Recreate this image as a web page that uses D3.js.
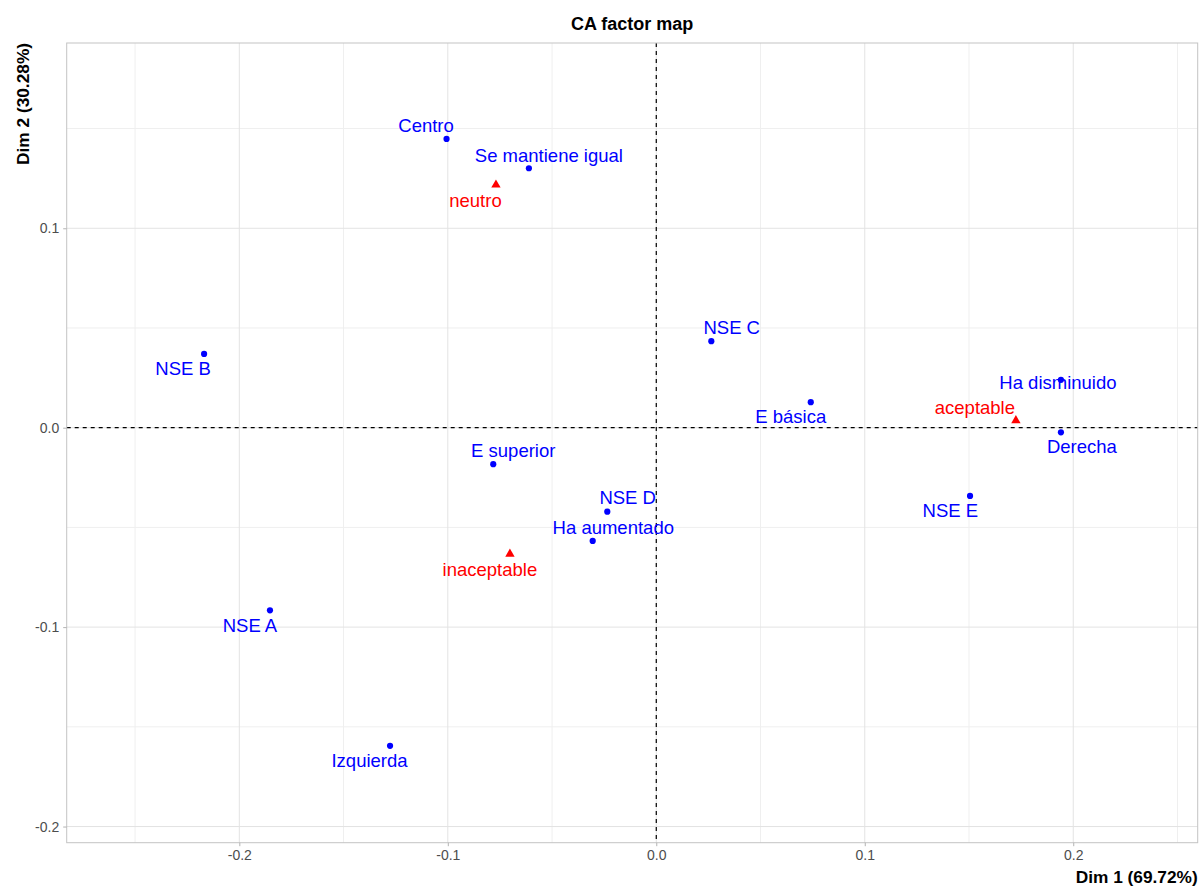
<!DOCTYPE html>
<html>
<head>
<meta charset="utf-8">
<script src="https://cdn.jsdelivr.net/npm/d3@7"></script>
<style>
  html, body { margin: 0; padding: 0; background: #ffffff; }
  svg { display: block; font-family: "Liberation Sans", Arial, sans-serif; }
</style>
</head>
<body>
<svg id="chart" width="1200" height="886"></svg>
<script>
// Row profiles (blue circles): category names and their coordinates
const rowNames = ["Centro", "Se mantiene igual", "NSE B", "NSE C", "E básica", "Ha disminuido",
                  "Derecha", "E superior", "NSE D", "Ha aumentado", "NSE E", "NSE A", "Izquierda"];
const rowDim1 = [-0.1006, -0.0611, -0.2169, 0.0264, 0.0741, 0.1941,
                 0.1941, -0.0782, -0.0235, -0.0305, 0.1505, -0.1853, -0.1277];
const rowDim2 = [0.1448, 0.1301, 0.0370, 0.0434, 0.0128, 0.0240,
                 -0.0023, -0.0183, -0.0421, -0.0568, -0.0342, -0.0916, -0.1595];

// Column profiles (red triangles)
const colNames = ["neutro", "aceptable", "inaceptable"];
const colDim1 = [-0.0769, 0.1725, -0.0702];
const colDim2 = [0.1218, 0.0036, -0.0633];

// Axis ticks
const xTicks = [-0.2, -0.1, 0.0, 0.1, 0.2];
const xTickLabels = ["-0.2", "-0.1", "0.0", "0.1", "0.2"];
const yTicks = [-0.2, -0.1, 0.0, 0.1];
const yTickLabels = ["-0.2", "-0.1", "0.0", "0.1"];
const xMinor = [-0.25, -0.15, -0.05, 0.05, 0.15, 0.25];
const yMinor = [-0.15, -0.05, 0.05, 0.15];

// Label placement (pixel offset of the label's centre/baseline from its point)
const labelOffsets = {
  "Centro": [-20.5, -6.7], "Se mantiene igual": [20, -6.6], "neutro": [-20.5, 22],
  "NSE B": [-21, 21], "NSE C": [20.4, -7], "E básica": [-20, 21],
  "Ha disminuido": [-3, 9.3], "aceptable": [-41, -6.5], "Derecha": [21, 21],
  "E superior": [20, -7.6], "NSE D": [20.4, -7.7], "Ha aumentado": [20.6, -7],
  "inaceptable": [-20, 22], "NSE E": [-19.7, 21.3], "NSE A": [-20, 22], "Izquierda": [-20.5, 21]
};

const rows = rowNames.map((n, i) => ({ name: n, x: rowDim1[i], y: rowDim2[i] }));
const cols = colNames.map((n, i) => ({ name: n, x: colDim1[i], y: colDim2[i] }));

const panel = { left: 66.7, right: 1197.7, top: 43, bottom: 842.7 };

const x = d3.scaleLinear().domain([-0.2828, 0.2597]).range([panel.left, panel.right]);
const y = d3.scaleLinear().domain([-0.2081, 0.1929]).range([panel.bottom, panel.top]);

const svg = d3.select("#chart");

// Grid
const grid = svg.append("g");
grid.selectAll(".xminor").data(xMinor).join("line")
  .attr("x1", d => x(d)).attr("x2", d => x(d))
  .attr("y1", panel.top).attr("y2", panel.bottom)
  .attr("stroke", "#efefef").attr("stroke-width", 1);
grid.selectAll(".yminor").data(yMinor).join("line")
  .attr("y1", d => y(d)).attr("y2", d => y(d))
  .attr("x1", panel.left).attr("x2", panel.right)
  .attr("stroke", "#efefef").attr("stroke-width", 1);
grid.selectAll(".xmajor").data(xTicks).join("line")
  .attr("x1", d => x(d)).attr("x2", d => x(d))
  .attr("y1", panel.top).attr("y2", panel.bottom)
  .attr("stroke", "#e3e3e3").attr("stroke-width", 1);
grid.selectAll(".ymajor").data(yTicks).join("line")
  .attr("y1", d => y(d)).attr("y2", d => y(d))
  .attr("x1", panel.left).attr("x2", panel.right)
  .attr("stroke", "#e3e3e3").attr("stroke-width", 1);

// Reference lines through the origin
svg.append("line")
  .attr("x1", x(0)).attr("x2", x(0)).attr("y1", panel.top).attr("y2", panel.bottom)
  .attr("stroke", "#000").attr("stroke-width", 1.2).attr("stroke-dasharray", "4,4");
svg.append("line")
  .attr("y1", y(0)).attr("y2", y(0)).attr("x1", panel.left).attr("x2", panel.right)
  .attr("stroke", "#000").attr("stroke-width", 1.2).attr("stroke-dasharray", "4,4");

// Panel border
svg.append("rect")
  .attr("x", panel.left).attr("y", panel.top)
  .attr("width", panel.right - panel.left).attr("height", panel.bottom - panel.top)
  .attr("fill", "none").attr("stroke", "#c4c4c4").attr("stroke-width", 1);

// Axes
const xAxis = d3.axisBottom(x).tickValues(xTicks)
  .tickFormat((d, i) => xTickLabels[i]).tickSize(3.5).tickPadding(4);
const yAxis = d3.axisLeft(y).tickValues(yTicks)
  .tickFormat((d, i) => yTickLabels[i]).tickSize(3.5).tickPadding(4);

const gx = svg.append("g").attr("transform", `translate(0,${panel.bottom})`).call(xAxis);
const gy = svg.append("g").attr("transform", `translate(${panel.left},0)`).call(yAxis);
[gx, gy].forEach(g => {
  g.select(".domain").remove();
  g.selectAll(".tick line").attr("stroke", "#b3b3b3");
  g.selectAll(".tick text").attr("fill", "#4d4d4d")
    .style("font-size", "14px").style("font-family", "'Liberation Sans', Arial, sans-serif");
});

// Points
svg.append("g").selectAll("circle").data(rows).join("circle")
  .attr("cx", d => x(d.x)).attr("cy", d => y(d.y)).attr("r", 3.1)
  .attr("fill", "#0000ff");

const tri = d3.symbol().type(d3.symbolTriangle).size(38);
svg.append("g").selectAll("path").data(cols).join("path")
  .attr("d", tri)
  .attr("transform", d => `translate(${x(d.x)},${y(d.y)})`)
  .attr("fill", "#ff0000");

// Labels
function drawLabels(data, color) {
  svg.append("g").selectAll("text").data(data).join("text")
    .attr("x", d => x(d.x) + labelOffsets[d.name][0])
    .attr("y", d => y(d.y) + labelOffsets[d.name][1])
    .attr("text-anchor", "middle")
    .attr("fill", color)
    .style("font-size", "18.5px")
    .text(d => d.name);
}
drawLabels(rows, "#0000ff");
drawLabels(cols, "#ff0000");

// Title and axis titles
svg.append("text")
  .attr("x", (panel.left + panel.right) / 2).attr("y", 29.5)
  .attr("text-anchor", "middle").attr("font-weight", "bold")
  .style("font-size", "18px").attr("fill", "#000")
  .text("CA factor map");

svg.append("text")
  .attr("x", panel.right).attr("y", 882.5)
  .attr("text-anchor", "end").attr("font-weight", "bold")
  .style("font-size", "17.3px").attr("fill", "#000")
  .text("Dim 1 (69.72%)");

svg.append("text")
  .attr("transform", `translate(28.5,${panel.top}) rotate(-90)`)
  .attr("text-anchor", "end").attr("font-weight", "bold")
  .style("font-size", "17.3px").attr("fill", "#000")
  .text("Dim 2 (30.28%)");
</script>
</body>
</html>
